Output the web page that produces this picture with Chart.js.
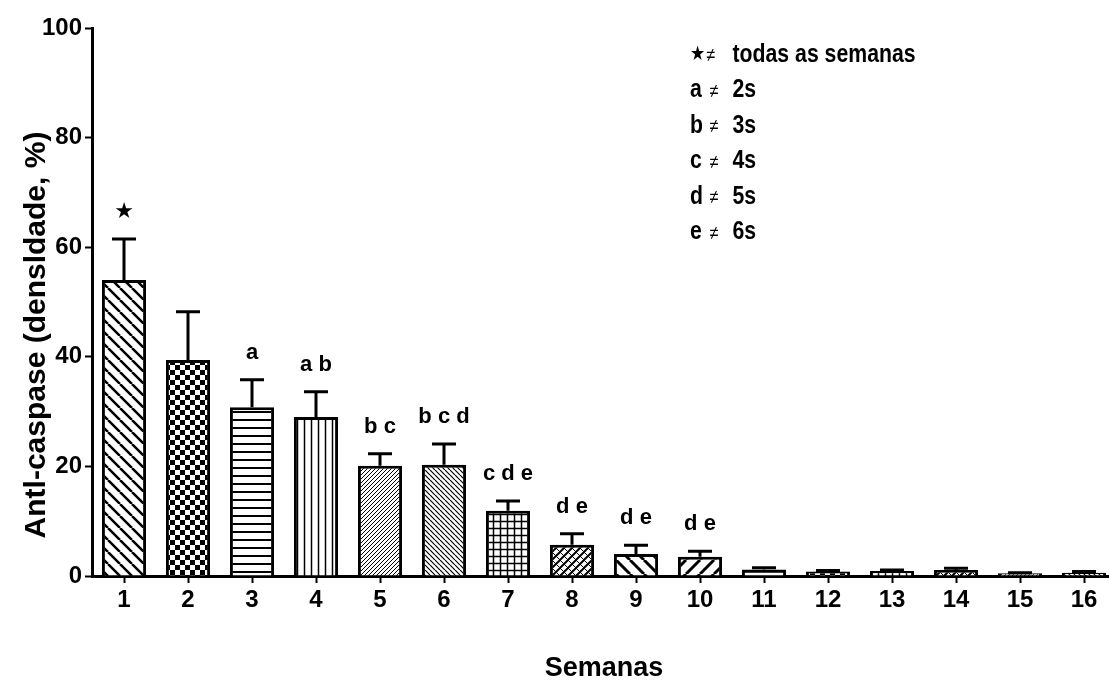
<!DOCTYPE html>
<html lang="pt">
<head>
<meta charset="UTF-8" />
<title>Anti-caspase por semana</title>
<script src="https://cdn.jsdelivr.net/npm/chart.js"></script>
<style>
  html, body { margin: 0; padding: 0; background: #fff; overflow: hidden; }
  #caixa { width: 1130px; height: 682px; }
</style>
</head>
<body>
<div id="caixa"><canvas id="grafico" width="1130" height="682"></canvas></div>

<script>
  // dados
  const semanas = ['1', '2', '3', '4', '5', '6', '7', '8', '9', '10', '11', '12', '13', '14', '15', '16'];
  const medias = [54.0, 39.4, 30.8, 29.0, 20.1, 20.3, 11.9, 5.7, 4.0, 3.5, 1.2, 0.8, 0.9, 1.1, 0.5, 0.6];
  const erros = [7.5, 8.8, 5.0, 4.6, 2.2, 3.8, 1.8, 2.0, 1.6, 1.0, 0.3, 0.2, 0.2, 0.3, 0.1, 0.2];
  const letras = ['★', '', 'a', 'a b', 'b c', 'b c d', 'c d e', 'd e', 'd e', 'd e', '', '', '', '', '', ''];
  const legendaMarcas = ['★', 'a', 'b', 'c', 'd', 'e'];
  const legendaTextos = ['todas as semanas', '2s', '3s', '4s', '5s', '6s'];
  const padroes = ['contraLargo', 'xadrez', 'horizontal', 'vertical', 'barraFina', 'contraFina', 'grade', 'trama',
                   'contraLarga2', 'barraLarga', 'horizontal', 'xadrez', 'grade', 'trama', 'barraFina', 'contraFina'];

  function diagonal(g, s, dir) {
    g.beginPath();
    for (let k = -1; k <= 1; k++) {
      if (dir == '\\') { g.moveTo(k * s, 0); g.lineTo(k * s + s, s); }
      else { g.moveTo(k * s, s); g.lineTo(k * s + s, 0); }
    }
    g.stroke();
  }

  function criaPadrao(tipo) {
    const tamanhos = { contraLargo: 12, xadrez: 10, horizontal: 8, vertical: 7, barraFina: 4, contraFina: 5,
                       grade: 7, trama: 8, contraLarga2: 14, barraLarga: 14 };
    const s = tamanhos[tipo];
    const c = document.createElement('canvas');
    c.width = s; c.height = s;
    const g = c.getContext('2d');
    g.fillStyle = '#fff';
    g.fillRect(0, 0, s, s);
    g.strokeStyle = '#000';
    g.fillStyle = '#000';
    if (tipo == 'contraLargo') { g.lineWidth = 2.5; diagonal(g, s, '\\'); }
    if (tipo == 'xadrez') { g.fillRect(0, 0, 5, 5); g.fillRect(5, 5, 5, 5); }
    if (tipo == 'horizontal') { g.lineWidth = 2; g.beginPath(); g.moveTo(0, 4); g.lineTo(s, 4); g.stroke(); }
    if (tipo == 'vertical') { g.lineWidth = 1.5; g.beginPath(); g.moveTo(3.5, 0); g.lineTo(3.5, s); g.stroke(); }
    if (tipo == 'barraFina') { g.lineWidth = 1; diagonal(g, s, '/'); }
    if (tipo == 'contraFina') { g.lineWidth = 1.2; diagonal(g, s, '\\'); }
    if (tipo == 'grade') {
      g.lineWidth = 1.5; g.beginPath();
      g.moveTo(3.5, 0); g.lineTo(3.5, s); g.moveTo(0, 3.5); g.lineTo(s, 3.5);
      g.stroke();
    }
    if (tipo == 'trama') { g.lineWidth = 2; diagonal(g, s, '/'); g.lineWidth = 1; diagonal(g, s, '\\'); }
    if (tipo == 'contraLarga2') { g.lineWidth = 3; diagonal(g, s, '\\'); }
    if (tipo == 'barraLarga') { g.lineWidth = 3; diagonal(g, s, '/'); }
    return g.createPattern(c, 'repeat');
  }

  // barras de erro, letras, legenda e titulo do eixo y
  const extras = {
    id: 'extras',
    afterDatasetsDraw(chart) {
      const ctx = chart.ctx;
      const y = chart.scales.y;
      const meta = chart.getDatasetMeta(0);
      ctx.save();
      ctx.strokeStyle = '#000';
      ctx.fillStyle = '#000';
      ctx.lineWidth = 3;
      ctx.textAlign = 'center';
      ctx.textBaseline = 'middle';
      meta.data.forEach(function (barra, i) {
        const base = y.getPixelForValue(medias[i]);
        const topo = y.getPixelForValue(medias[i] + erros[i]);
        ctx.beginPath();
        ctx.moveTo(barra.x, base);
        ctx.lineTo(barra.x, topo);
        ctx.moveTo(barra.x - 12, topo);
        ctx.lineTo(barra.x + 12, topo);
        ctx.stroke();
        if (letras[i]) {
          ctx.font = letras[i] == '★' ? "22px 'DejaVu Sans'" : "bold 22px 'Liberation Sans', Arial";
          ctx.fillText(letras[i], barra.x, topo - 27);
        }
      });

      // legenda com letra mais estreita, como no original
      ctx.textAlign = 'left';
      legendaMarcas.forEach(function (m, i) {
        const ly = 55 + i * 35.5;
        ctx.save();
        ctx.translate(690, ly);
        ctx.scale(0.85, 1);
        ctx.font = m == '★' ? "20px 'DejaVu Sans'" : "bold 25px 'Liberation Sans', Arial";
        ctx.fillText(m, 0, 0);
        ctx.font = "19px 'Liberation Sans', Arial";
        ctx.fillText('≠', m == '★' ? 19 : 23, 1);
        ctx.font = "bold 25px 'Liberation Sans', Arial";
        ctx.fillText(legendaTextos[i], 50, 0);
        ctx.restore();
      });

      ctx.translate(37, 335);
      ctx.rotate(-Math.PI / 2);
      ctx.textAlign = 'center';
      ctx.font = "bold 30px 'Liberation Sans', Arial";
      ctx.fillText('Antl-caspase (densldade, %)', 0, 0);
      ctx.restore();
    }
  };

  const config = {
    type: 'bar',
    data: {
      labels: semanas,
      datasets: [{
        label: 'Anti-caspase',
        data: medias,
        backgroundColor: padroes.map(criaPadrao),
        borderColor: '#000',
        borderWidth: 3,
        barPercentage: 0.69,
        categoryPercentage: 1
      }]
    },
    options: {
      responsive: false,
      animation: false,
      devicePixelRatio: 1,
      layout: { padding: { top: 28, right: 14, left: 0, bottom: 0 } },
      plugins: { legend: { display: false }, tooltip: { enabled: false } },
      scales: {
        x: {
          afterFit: function (scale) { scale.height = 106; },
          grid: { offset: false, drawOnChartArea: false, tickLength: 7, tickWidth: 2, tickColor: '#000' },
          border: { color: '#000', width: 3 },
          ticks: { color: '#000', padding: 3, font: { family: "'Liberation Sans', Arial", size: 24, weight: 'bold' } },
          title: {
            display: true,
            text: 'Semanas',
            color: '#000',
            padding: { top: 0, bottom: 0 },
            font: { family: "'Liberation Sans', Arial", size: 27, weight: 'bold', lineHeight: 1 }
          }
        },
        y: {
          min: 0,
          max: 100,
          afterFit: function (scale) { scale.width = 92; },
          grid: { drawOnChartArea: false, tickLength: 7, tickWidth: 2, tickColor: '#000' },
          border: { color: '#000', width: 3 },
          ticks: { stepSize: 20, color: '#000', padding: 3, font: { family: "'Liberation Sans', Arial", size: 24, weight: 'bold' } }
        }
      }
    },
    plugins: [extras]
  };

  const graficoSemanas = new Chart(document.getElementById('grafico'), config);
</script>
</body>
</html>
